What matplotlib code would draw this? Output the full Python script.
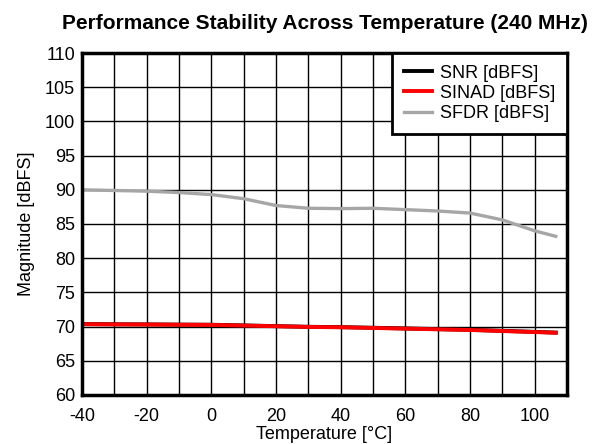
import matplotlib
matplotlib.use("Agg")
import matplotlib.pyplot as plt

temp = [-40, -30, -20, -10, 0, 10, 20, 30, 40, 50, 60, 70, 80, 90, 100, 106.5]
snr = [70.37, 70.34, 70.32, 70.29, 70.27, 70.17, 70.07, 69.97, 69.92, 69.83, 69.73, 69.63, 69.53, 69.38, 69.23, 69.12]
sinad = [70.35, 70.32, 70.3, 70.27, 70.25, 70.15, 70.05, 69.95, 69.9, 69.8, 69.7, 69.6, 69.5, 69.35, 69.2, 69.1]
sfdr = [90.0, 89.9, 89.8, 89.6, 89.3, 88.7, 87.7, 87.3, 87.25, 87.3, 87.1, 86.9, 86.6, 85.6, 84.0, 83.2]

xticks = [-40, -20, 0, 20, 40, 60, 80, 100]
yticks = [60, 65, 70, 75, 80, 85, 90, 95, 100, 105, 110]

plt.rcParams['font.family'] = ['Liberation Sans', 'DejaVu Sans']
plt.rcParams['axes.unicode_minus'] = False

fig = plt.figure(figsize=(5.98, 4.44), dpi=100)
ax = fig.add_axes([0.1371, 0.1104, 0.8111, 0.7702])

ax.plot(temp, snr, color='black', lw=2.8, label='SNR [dBFS]', zorder=3)
ax.plot(temp, sinad, color='#ff0000', lw=2.8, label='SINAD [dBFS]', zorder=4)
ax.plot(temp, sfdr, color='#a6a6a6', lw=2.4, label='SFDR [dBFS]', zorder=3)

ax.set_xlim(-40, 110)
ax.set_ylim(60, 110)
ax.set_xticks(xticks)
ax.set_xticks(range(-40, 111, 10), minor=True)
ax.set_yticks(yticks)
ax.grid(True, which='both', color='black', lw=1.0)
ax.tick_params(which='both', length=0, labelsize=13)
ax.tick_params(axis='x', pad=9.5)
ax.tick_params(axis='y', pad=5)
for s in ax.spines.values():
    s.set_linewidth(2.5)
    s.set_zorder(5)

ax.set_xlabel('Temperature [°C]', fontsize=13, labelpad=0.5)
ax.set_ylabel('Magnitude [dBFS]', fontsize=13, labelpad=7)
ax.set_title('Performance Stability Across Temperature (240 MHz)', fontsize=15, fontweight='bold', pad=17)

leg = ax.legend(loc='upper right', fontsize=13, fancybox=False, framealpha=1,
                edgecolor='black', borderaxespad=0, handlelength=1.55,
                labelspacing=0.17, borderpad=0.65, handletextpad=0.45)
leg.get_frame().set_linewidth(2.0)
leg.set_zorder(6)

fig.savefig('out.png', dpi=100)
